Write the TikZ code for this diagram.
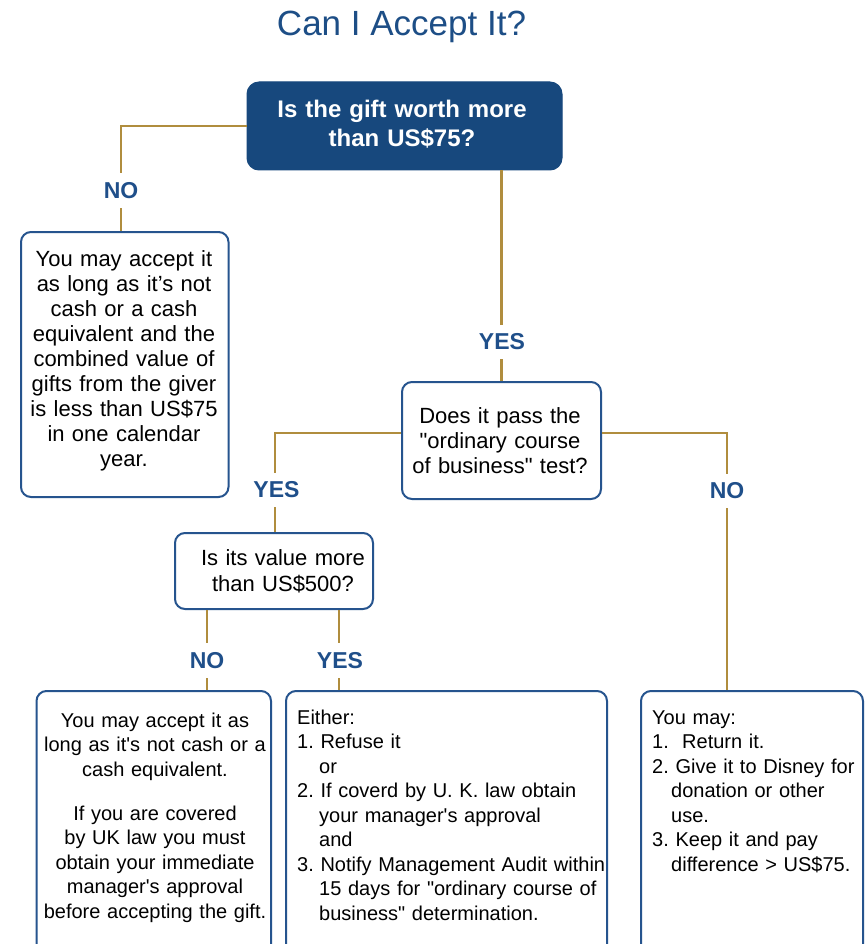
\documentclass[tikz,border=0pt]{standalone}
\usepackage{fontspec}
\setmainfont{Liberation Sans}
\frenchspacing
\definecolor{topblue}{HTML}{17487D}
\definecolor{titleblue}{HTML}{1D4E86}
\definecolor{lblblue}{HTML}{1F4F8A}
\definecolor{boxblue}{HTML}{26548E}
\definecolor{gold}{HTML}{B08D3E}
\begin{document}
\begin{tikzpicture}[x=1pt,y=-1pt,
  box/.style={draw=boxblue, line width=2pt, rounded corners=10pt, fill=white, inner sep=0pt},
  topbox/.style={draw=topblue, fill=topblue, line width=1pt, rounded corners=12pt, inner sep=0pt},
  conn/.style={draw=gold, line width=2.5pt},
  lbl/.style={font=\fontsize{23}{26}\selectfont\bfseries, text=lblblue, fill=white, inner xsep=3pt, inner ysep=9pt},
  ctext/.style={inner sep=0pt, anchor=base, align=center, text width=#1, font=\fontsize{22}{25}\selectfont},
  ltext/.style={inner sep=0pt, anchor=base west, align=left, text width=#1, font=\fontsize{20}{24.5}\selectfont}
]
\useasboundingbox (0,0) rectangle (865,944);
\fill[white] (0,0) rectangle (865,944);
\clip (0,0) rectangle (865,944);

% title
\node[font=\fontsize{35}{40}\selectfont, text=titleblue, anchor=base, inner sep=0pt] (title) at (401.5,36) {Can I Accept It?};

% boxes
\node[topbox, minimum width=315pt, minimum height=88pt] (t) at (404.5,126) {};
\node[box, minimum width=207.5pt, minimum height=265pt] (lb) at (124.75,364.5) {};
\node[box, minimum width=199pt, minimum height=117pt] (b2) at (501.5,440.5) {};
\node[box, minimum width=198pt, minimum height=76pt] (b3) at (274,571) {};
\node[box, minimum width=234.5pt, minimum height=269pt] (bl) at (153.75,825.5) {};
\node[box, minimum width=321pt, minimum height=269pt] (bm) at (446.5,825.5) {};
\node[box, minimum width=222pt, minimum height=269pt] (rb) at (752,825.5) {};

% connectors
\draw[conn] (t.west) -| ([xshift=-3.75pt]lb.north);
\draw[conn] (t.south -| b2.north) -- (b2.north);
\draw[conn] ([yshift=7.5pt]b2.west) -| ([xshift=1pt]b3.north);
\draw[conn] ([yshift=7.5pt]b2.east) -| ([xshift=-25pt]rb.north);
\draw[conn] ([xshift=-67pt]b3.south) -- ([xshift=-67pt]b3.south |- bl.north);
\draw[conn] ([xshift=65pt]b3.south) -- ([xshift=65pt]b3.south |- bm.north);

% labels
\node[lbl] (no1) at (121,190.5) {NO};
\node[lbl] (yes1) at (502,342) {YES};
\node[lbl] (yes2) at (276.5,490) {YES};
\node[lbl] (no2) at (727,491) {NO};
\node[lbl] (no3) at (207,660.5) {NO};
\node[lbl] (yes3) at (340,660.5) {YES};

% texts
\node[ctext=300pt, text=white, font=\fontsize{24}{29}\selectfont\bfseries] (ttxt) at (402,118) {Is the gift worth more\\than US\$75?};
\node[ctext=205pt] (lbtxt) at (124,266) {You may accept it\\as long as it’s not\\cash or a cash\\equivalent and the\\combined value of\\gifts from the giver\\is less than US\$75\\in one calendar\\year.};
\node[ctext=196pt] (b2txt) at (500,423) {Does it pass the\\\textquotedbl ordinary course\\of business\textquotedbl{} test?};
\node[ctext=190pt, font=\fontsize{22}{26}\selectfont] (b3txt) at (283,565) {Is its value more\\than US\$500?};
\node[ctext=232pt, font=\fontsize{20}{24.5}\selectfont] (bltxt) at (155,727) {You may accept it as\\long as it\textquotesingle s not cash or a\\cash equivalent.\\[19.5pt]If you are covered\\by UK law you must\\obtain your immediate\\manager\textquotesingle s approval\\before accepting the gift.};
\node[ltext=312pt] (bmtxt) at (297,724) {Either:\\
1. Refuse it\\
\hspace*{22pt}or\\
2. If coverd by U. K. law obtain\\
\hspace*{22pt}your manager\textquotesingle s approval\\
\hspace*{22pt}and\\
3. Notify Management Audit within\\
\hspace*{22pt}15 days for \textquotedbl ordinary course of\\
\hspace*{22pt}business\textquotedbl{} determination.};
\node[ltext=208pt] (rbtxt) at (652,724) {You may:\\
1.\ \ Return it.\\
2. Give it to Disney for\\
\hspace*{19pt}donation or other\\
\hspace*{19pt}use.\\
3. Keep it and pay\\
\hspace*{19pt}difference > US\$75.};
\end{tikzpicture}
\end{document}
